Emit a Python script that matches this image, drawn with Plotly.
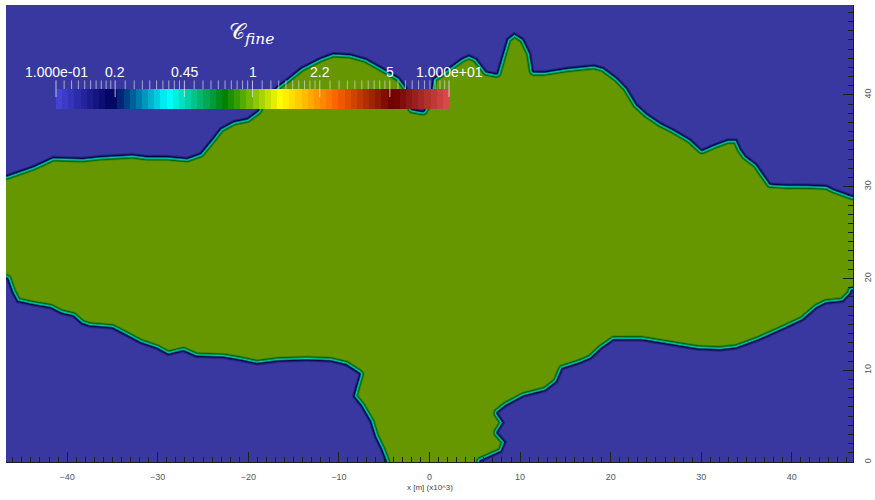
import numpy as np
import plotly.graph_objects as go

# ---------------------------------------------------------------------------
# Plume outline in km. Upper edge runs west -> east, lower edge east -> west
# (down the stem to the ground and back up). Points past the view edges just
# continue the outline so the polygon closes outside the frame.
# ---------------------------------------------------------------------------
top_x = [-50.0, -46.7, -43.8, -41.6, -38.3, -36.4, -32.8, -31.2, -29.0, -26.8,
         -25.4, -24.3, -23.2, -21.7, -20.2, -19.1, -18.4, -16.9, -15.8, -14.3,
         -12.1, -10.7, -8.8, -7.0, -5.2, -3.3, -2.4, -1.9, -0.8, 0.0,
         0.3, 1.1, 2.0, 3.5, 4.4, 5.3, 6.4, 7.4, 7.9, 8.5,
         9.4, 10.5, 11.3, 11.6, 12.7, 15.2, 18.2, 19.3, 20.8, 21.9,
         23.0, 24.1, 25.6, 27.0, 28.9, 30.1, 31.5, 32.9, 34.0, 34.5,
         35.0, 36.2, 37.7, 39.5, 41.7, 43.9, 44.7, 46.7, 50.0]
top_y = [31.8, 31.4, 32.4, 33.4, 33.3, 33.5, 33.7, 33.5, 33.5, 33.3,
         33.8, 35.1, 36.5, 37.3, 37.6, 38.4, 39.8, 41.1, 41.9, 43.1,
         44.2, 44.7, 44.6, 44.1, 43.1, 42.0, 40.8, 38.6, 38.4, 39.8,
         41.9, 42.4, 43.0, 44.1, 44.5, 44.1, 42.7, 42.5, 44.2, 46.2,
         46.9, 46.2, 44.6, 42.7, 42.7, 43.1, 43.4, 43.1, 42.0, 40.9,
         39.1, 38.1, 37.1, 36.4, 35.3, 34.2, 34.8, 35.3, 35.3, 34.2,
         33.5, 32.6, 30.5, 30.4, 30.4, 30.3, 29.9, 29.2, 28.5]

bot_x = [50.0, 46.7, 46.6, 45.7, 43.8, 42.8, 41.3, 38.9, 36.4, 33.9,
         32.1, 29.6, 26.5, 23.4, 20.4, 19.1, 17.9, 16.7, 14.8, 14.2,
         12.9, 10.5, 8.6, 7.7, 8.4, 7.7, 8.6, 8.1, 5.8, 5.6,
         -5.1, -5.0, -5.5, -6.2, -6.7, -7.7, -8.6, -8.3, -7.9, -9.3,
         -11.0, -13.6, -16.7, -19.1, -21.0, -22.8, -25.8, -27.2, -28.9, -30.2,
         -32.0, -33.9, -35.1, -37.6, -38.5, -39.4, -40.7, -41.9, -43.7, -45.6,
         -46.2, -46.7, -50.0]
bot_y = [18.9, 18.5, 18.2, 17.3, 17.1, 16.6, 15.3, 14.2, 13.1, 12.2,
         12.0, 12.1, 12.6, 13.1, 13.1, 12.2, 11.1, 10.6, 10.0, 8.6,
         7.6, 7.0, 6.0, 5.3, 4.3, 3.2, 2.2, 1.0, 0.0, -3.0,
         -3.0, 0.0, 1.3, 2.7, 4.3, 6.0, 7.1, 8.2, 9.5, 10.4,
         10.8, 10.9, 10.8, 10.5, 10.9, 11.2, 11.3, 11.9, 11.5, 12.2,
         12.8, 13.8, 14.4, 14.6, 14.9, 15.7, 16.0, 16.6, 16.9, 17.3,
         18.4, 19.8, 20.4]

c_inside = 1.0      # fine-fraction value carried by the plume
c_outside = 0.1     # ambient value
edge_out = 0.12     # mixing layer reaching outside the outline (km)
edge_in = 0.75      # mixing layer reaching inside the outline (km)

# Colour legend
legend_values = [0.1, 0.2, 0.45, 1, 2.2, 5, 10]
legend_text = ["1.000e-01", "0.2", "0.45", "1", "2.2", "5", "1.000e+01"]
legend_bands = 64

# Axes
x_range = [-46.75, 46.75]
y_range = [0.0, 49.8]
x_ticks = [-40, -30, -20, -10, 0, 10, 20, 30, 40]
y_ticks = [0, 10, 20, 30, 40]

# ParaView "Rainbow Desaturated" control points
cmap_pos = [0.0, 0.143, 0.285, 0.429, 0.571, 0.714, 0.857, 1.0]
cmap_rgb = [(71, 71, 219), (0, 0, 92), (0, 255, 255), (0, 128, 0),
            (255, 255, 0), (255, 97, 0), (107, 0, 0), (224, 77, 77)]
surface_shade = (0.80, 0.79, 0.73)   # lighting on the rendered slice


def scale(shade=(1.0, 1.0, 1.0)):
    return [[p, "rgb(%d,%d,%d)" % tuple(round(c * s) for c, s in zip(rgb, shade))]
            for p, rgb in zip(cmap_pos, cmap_rgb)]


# ---------------------------------------------------------------------------
# Build the field on a grid from the outline: signed distance -> log value
# ---------------------------------------------------------------------------
nx, ny = 848, 458
xc = x_range[0] + (np.arange(nx) + 0.5) * (x_range[1] - x_range[0]) / nx
yc = y_range[0] + (np.arange(ny) + 0.5) * (y_range[1] - y_range[0]) / ny
X, Y = np.meshgrid(xc, yc)

px = np.r_[top_x, bot_x]
py = np.r_[top_y, bot_y]
bx_, by_ = np.roll(px, -1), np.roll(py, -1)

dist = np.full(X.shape, np.inf)
inside = np.zeros(X.shape, dtype=bool)
for ax, ay, bx, by in zip(px, py, bx_, by_):
    dx, dy = bx - ax, by - ay
    t = np.clip(((X - ax) * dx + (Y - ay) * dy) / (dx * dx + dy * dy), 0, 1)
    np.minimum(dist, np.hypot(X - ax - t * dx, Y - ay - t * dy), out=dist)
    if dy != 0:
        cross = (ay > Y) != (by > Y)
        xint = ax + (Y - ay) * dx / dy
        inside ^= cross & (X < xint)

sd = np.where(inside, dist, -dist)
s = np.clip((sd + edge_out) / (edge_in + edge_out), 0, 1)
s = s * s * (3 - 2 * s)
lo, hi = np.log10(c_outside), np.log10(c_inside)
field = (lo + (hi - lo) * s).astype(np.float32)

fig = go.Figure()
fig.add_trace(go.Heatmap(x=xc, y=yc, z=field, colorscale=scale(surface_shade),
                         zmin=-1, zmax=1, showscale=False, hoverinfo="skip"))

# ---------------------------------------------------------------------------
# Colour legend drawn on its own log axis (bar occupies y2 in [0, 1])
# ---------------------------------------------------------------------------
band_c = -1 + (np.arange(legend_bands) + 0.5) * 2 / legend_bands
fig.add_trace(go.Heatmap(x=band_c, y=[0.5], z=[band_c], colorscale=scale(),
                         zmin=-1, zmax=1, showscale=False, hoverinfo="skip",
                         xaxis="x2", yaxis="y2"))

tick_x, tick_y = [], []
for a, b in zip(legend_values[:-1], legend_values[1:]):
    for k in range(1, 10):
        v = np.log10(a + k * (b - a) / 10)
        tick_x += [v, v, None]
        tick_y += [1.0, 1.43, None]
major_x, major_y = [], []
for v in legend_values:
    lv = np.log10(v)
    major_x += [lv, lv, None]
    major_y += [0.6, 1.43, None]
fig.add_trace(go.Scatter(x=tick_x, y=tick_y, mode="lines", xaxis="x2", yaxis="y2",
                         line=dict(color="rgba(215,215,225,0.7)", width=1),
                         hoverinfo="skip", showlegend=False))
fig.add_trace(go.Scatter(x=major_x, y=major_y, mode="lines", xaxis="x2", yaxis="y2",
                         line=dict(color="rgba(225,225,235,0.8)", width=1),
                         hoverinfo="skip", showlegend=False))

annotations = []
for v, txt in zip(legend_values, legend_text):
    annotations.append(dict(x=float(np.log10(v)), y=1.85, xref="x2", yref="y2", text=txt,
                            showarrow=False, xanchor="center", yanchor="middle",
                            font=dict(family="Liberation Sans", size=14, color="white")))
annotations.append(dict(x=251 / 875, y=1 - 33 / 500, xref="paper", yref="paper",
                        text="𝒞<sub><i>fine</i></sub>", showarrow=False,
                        xanchor="center", yanchor="middle",
                        font=dict(family="DejaVu Serif", size=22, color="white")))
annotations.append(dict(x=430 / 875, y=1 - 487 / 500, xref="paper", yref="paper",
                        text="x [m] (x10^3)", showarrow=False,
                        xanchor="center", yanchor="middle",
                        font=dict(family="Liberation Sans", size=8, color="#444")))

# legend axis: 393 px for two decades, padded a few px on each side
pad = 4 * 2 / 393
axis_dark = "#1e1e1e"
fig.update_layout(
    width=875, height=500,
    margin=dict(l=0, r=0, t=0, b=0),
    paper_bgcolor="white", plot_bgcolor="rgba(0,0,0,0)",
    showlegend=False,
    annotations=annotations,
    xaxis=dict(domain=[6 / 875, 853 / 875], range=x_range, anchor="y",
               tickvals=x_ticks, ticks="inside", ticklen=10, tickcolor=axis_dark,
               minor=dict(dtick=1, ticks="inside", ticklen=5, tickcolor=axis_dark),
               showline=True, linecolor=axis_dark, linewidth=1,
               showgrid=False, zeroline=False, automargin=False,
               ticklabelstandoff=6,
               tickfont=dict(family="Liberation Sans", size=9, color="#555")),
    yaxis=dict(domain=[1 - 462 / 500, 1 - 5 / 500], range=y_range, anchor="x",
               side="right", tickvals=y_ticks, ticks="inside", ticklen=10,
               tickcolor=axis_dark, tickangle=-90,
               minor=dict(dtick=1, ticks="inside", ticklen=5, tickcolor=axis_dark),
               showline=True, linecolor=axis_dark, linewidth=1,
               showgrid=False, zeroline=False, automargin=False,
               ticklabelstandoff=6,
               tickfont=dict(family="Liberation Sans", size=9, color="#555")),
    xaxis2=dict(domain=[52 / 875, 453 / 875], range=[-1 - pad, 1 + pad], anchor="y2",
                visible=False, fixedrange=True),
    yaxis2=dict(domain=[1 - 109 / 500, 1 - 60 / 500], range=[0, 49 / 20], anchor="x2",
                visible=False, fixedrange=True),
)

fig.write_html("out.html")
